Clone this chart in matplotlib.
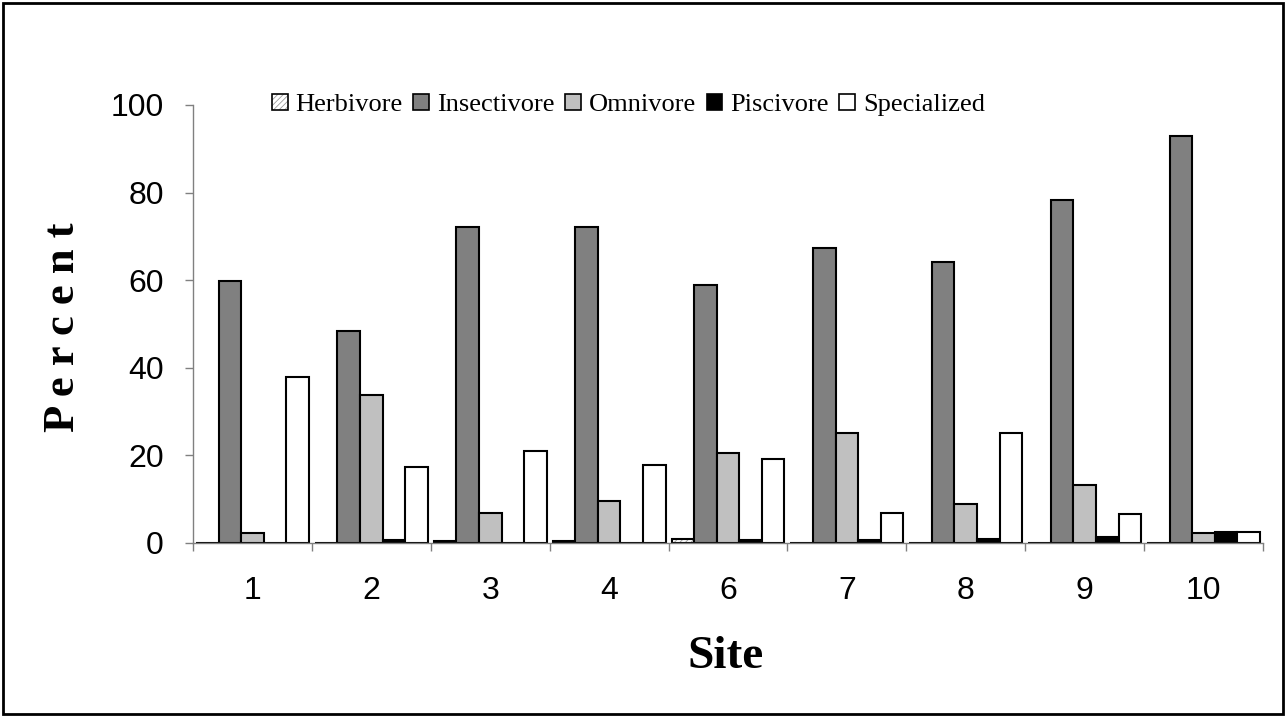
#!/usr/bin/env python3
"""
Feeding guild composition by site (grouped bars, greyscale)
"""

import numpy as np
import matplotlib
matplotlib.use('Agg')
import matplotlib.pyplot as plt
from matplotlib.patches import Rectangle
from matplotlib.legend_handler import HandlerTuple

# data
sites = ['1', '2', '3', '4', '6', '7', '8', '9', '10']
herbivore = [0, 0, 0.5, 0.5, 1.0, 0, 0, 0, 0]
insectivore = [59.7, 48.4, 72.1, 72.1, 58.9, 67.4, 64.1, 78.3, 92.9]
omnivore = [2.3, 33.8, 6.8, 9.6, 20.6, 25.1, 9.0, 13.2, 2.2]
piscivore = [0, 0.6, 0, 0, 0.6, 0.6, 0.9, 1.4, 2.4]
specialized = [37.9, 17.3, 21.0, 17.8, 19.1, 6.8, 25.1, 6.7, 2.6]

guilds = ['Herbivore', 'Insectivore', 'Omnivore', 'Piscivore', 'Specialized']
fills = ['white', '#808080', '#c0c0c0', 'black', 'white']

plt.rcParams['hatch.linewidth'] = 0.6

fig = plt.figure(figsize=(12.86, 7.17), dpi=100, facecolor='white')
ax = fig.add_axes([0.1501, 0.2427, 0.8320, 0.6109])

x = np.arange(len(sites))
w = 0.19
series = [herbivore, insectivore, omnivore, piscivore, specialized]
handles = []
for k, (vals, fc) in enumerate(zip(series, fills)):
    pos = x + (k - 2) * w
    if k == 0:
        # hatched fill underneath, black outline on top
        ax.bar(pos, vals, w, color='white', edgecolor='#9a9a9a', hatch='//////', linewidth=0)
        ax.bar(pos, vals, w, facecolor='none', edgecolor='black', linewidth=1.5)
        h1 = Rectangle((0, 0), 1, 1, facecolor='white', edgecolor='#9a9a9a', hatch='//////', linewidth=0)
        h2 = Rectangle((0, 0), 1, 1, facecolor='none', edgecolor='black', linewidth=1.2)
        handles.append((h1, h2))
    else:
        ax.bar(pos, vals, w, color=fc, edgecolor='black', linewidth=1.5)
        handles.append(Rectangle((0, 0), 1, 1, facecolor=fc, edgecolor='black', linewidth=1.2))

ax.set_xlim(-0.5, len(sites) - 0.5)
ax.set_ylim(0, 100)
ax.set_yticks(range(0, 101, 20))

# ticks between categories, labels at centres
ax.set_xticks(np.arange(-0.5, len(sites), 1.0))
ax.set_xticklabels([])
ax.set_xticks(x, minor=True)
ax.set_xticklabels(sites, minor=True)
ax.tick_params(axis='x', which='major', direction='out', length=6, width=1, color='#808080')
ax.tick_params(axis='x', which='minor', length=0, pad=24, labelsize=23)
ax.tick_params(axis='y', direction='out', length=6, width=1, color='#808080', pad=15, labelsize=23)
for lab in ax.get_xticklabels(minor=True) + ax.get_yticklabels():
    lab.set_fontfamily('Liberation Sans')

for s in ['top', 'right']:
    ax.spines[s].set_visible(False)
for s in ['left', 'bottom']:
    ax.spines[s].set_color('#808080')
    ax.spines[s].set_linewidth(1)

fig.legend(handles, guilds, loc='center', bbox_to_anchor=(0.4887, 0.8536), ncol=5, frameon=False,
           handler_map={tuple: HandlerTuple(ndivide=1, pad=0)},
           handlelength=0.6, handleheight=0.6, handletextpad=0.3, columnspacing=0.4,
           prop={'family': 'Liberation Serif', 'size': 19})

fig.text(63 / 1286, 1 - 327 / 717, 'P e r c e n t', rotation=90, ha='center', va='center',
         fontsize=32, fontweight='bold', family='Liberation Serif')
fig.text(726 / 1286, 1 - 657 / 717, 'Site', ha='center', va='center',
         fontsize=34, fontweight='bold', family='Liberation Serif')

# outer frame
fig.patches.append(Rectangle((3 / 1286, 3 / 717), 1280 / 1286, 711 / 717, transform=fig.transFigure,
                             fill=False, edgecolor='black', linewidth=2))

plt.savefig('out.png', dpi=100, facecolor='white')
plt.close()
